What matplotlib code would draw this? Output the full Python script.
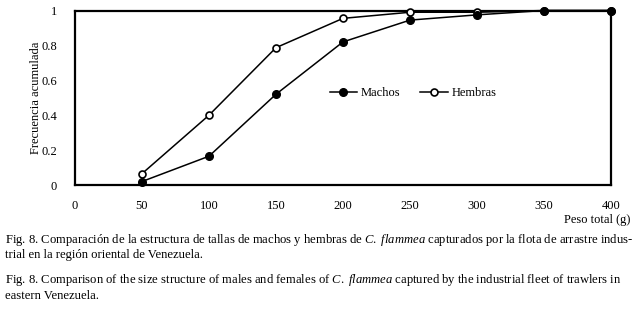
import matplotlib
matplotlib.use("Agg")
import matplotlib.pyplot as plt

peso = [50, 100, 150, 200, 250, 300, 350, 400]
machos = [0.02, 0.165, 0.52, 0.82, 0.945, 0.975, 1.0, 1.0]
hembras = [0.065, 0.40, 0.787, 0.955, 0.99, 0.99, 1.0, 1.0]
xticks = [0, 50, 100, 150, 200, 250, 300, 350, 400]
yticks = [0, 0.2, 0.4, 0.6, 0.8, 1]
ytick_labels = ["0", "0.2", "0.4", "0.6", "0.8", "1"]

plt.rcParams['font.family'] = ['Liberation Serif', 'DejaVu Serif']
plt.rcParams['mathtext.fontset'] = 'custom'
plt.rcParams['mathtext.rm'] = 'Liberation Serif'
plt.rcParams['mathtext.it'] = 'Liberation Serif:italic'

fig = plt.figure(figsize=(6.37, 3.10), dpi=100)
ax = fig.add_axes([75/637, 1-185/310, (611-75)/637, (185-10.5)/310])

ax.plot(peso, hembras, color='black', lw=1.1, marker='o', ms=5,
        mfc='white', mec='black', mew=1.2, label='Hembras', zorder=3, clip_on=False)
ax.plot(peso, machos, color='black', lw=1.1, marker='o', ms=5.5,
        mfc='black', mec='black', label='Machos', zorder=4, clip_on=False)

ax.set_xlim(0, 400)
ax.set_ylim(0, 1)
ax.set_xticks(xticks)
ax.set_xticklabels([str(v) for v in xticks])
ax.set_yticks(yticks)
ax.set_yticklabels(ytick_labels)
ax.tick_params(length=0, labelsize=9, pad=11)
ax.tick_params(axis='y', pad=13)
for s in ax.spines.values():
    s.set_linewidth(1.6)
ax.set_ylabel('Frecuencia acumulada', fontsize=9)
ax.yaxis.set_label_coords(-0.061, 0.5)

h, l = ax.get_legend_handles_labels()
ax.legend([h[1], h[0]], [l[1], l[0]], ncol=2, frameon=False, fontsize=9,
          loc='center left', bbox_to_anchor=(0.475, 0.527),
          handlelength=2.2, handletextpad=0.3, columnspacing=1.6,
          borderaxespad=0, borderpad=0)

fig.text(630/637, 1-220/310, 'Peso total (g)', ha='right', va='center', fontsize=9)

fs = 9.1
fig.text(5/637, 1-240/310,
         'Fig. 8. Comparación de la estructura de tallas de machos y hembras de $\\it{C.}$ $\\it{flammea}$ capturados por la flota de arrastre indus-',
         ha='left', va='center', fontsize=fs)
fig.text(5/637, 1-255/310, 'trial en la región oriental de Venezuela.',
         ha='left', va='center', fontsize=fs)
fig.text(5/637, 1-280/310,
         'Fig. 8. Comparison of the size structure of males and females of $\\it{C.}$ $\\it{flammea}$ captured by the industrial fleet of trawlers in',
         ha='left', va='center', fontsize=fs)
fig.text(5/637, 1-296/310, 'eastern Venezuela.',
         ha='left', va='center', fontsize=fs)

fig.savefig('out.png', dpi=100)
